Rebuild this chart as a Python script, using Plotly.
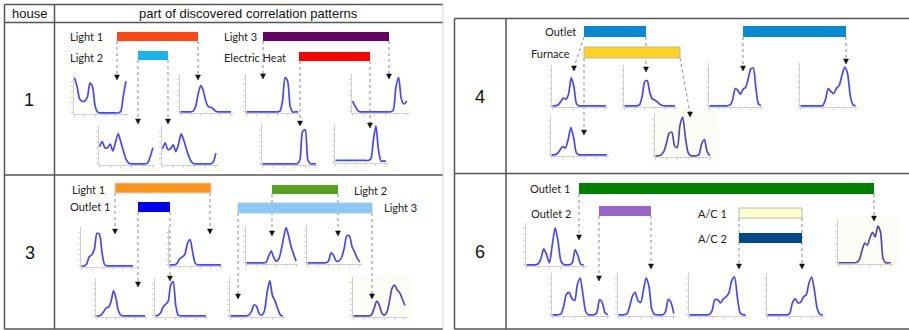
import plotly.graph_objects as go

W, H = 909, 330

# ---------------------------------------------------------------------------
# Sample positions shared by every small density curve
X = [0.00, 0.05, 0.10, 0.15, 0.20, 0.25, 0.30, 0.35, 0.40, 0.45, 0.50,
     0.55, 0.60, 0.65, 0.70, 0.75, 0.80, 0.85, 0.90, 0.95, 1.00]

# House 1 curves
h1_a = [1.00, 0.75, 0.40, 0.33, 0.34, 0.45, 0.85, 0.75, 0.20, 0.02, 0.00,
        0.00, 0.00, 0.00, 0.00, 0.00, 0.00, 0.00, 0.05, 0.50, 0.90]
h1_b = [0.00, 0.00, 0.00, 0.00, 0.00, 0.02, 0.15, 0.50, 0.73, 0.60, 0.30,
        0.15, 0.13, 0.08, 0.02, 0.00, 0.00, 0.00, 0.00, 0.00, 0.00]
h1_c = [0.00, 0.00, 0.00, 0.00, 0.00, 0.00, 0.00, 0.00, 0.00, 0.00, 0.00,
        0.00, 0.00, 0.02, 0.30, 0.95, 0.85, 0.15, 0.00, 0.00, 0.00]
h1_d = [0.30, 0.15, 0.03, 0.00, 0.00, 0.00, 0.00, 0.00, 0.00, 0.00, 0.00,
        0.00, 0.00, 0.00, 0.00, 0.05, 0.70, 0.95, 0.35, 0.22, 0.30]
h1_e = [0.48, 0.62, 0.45, 0.45, 0.55, 0.36, 0.60, 0.84, 0.60, 0.35, 0.12,
        0.02, 0.00, 0.00, 0.00, 0.00, 0.00, 0.00, 0.02, 0.20, 0.45]
h1_f = [0.42, 0.58, 0.40, 0.42, 0.53, 0.34, 0.55, 0.83, 0.65, 0.40, 0.18,
        0.04, 0.00, 0.00, 0.00, 0.00, 0.00, 0.00, 0.00, 0.05, 0.30]
h1_g = [0.00, 0.00, 0.00, 0.00, 0.00, 0.00, 0.00, 0.00, 0.00, 0.00, 0.00,
        0.00, 0.00, 0.00, 0.10, 0.85, 0.90, 0.10, 0.00, 0.00, 0.00]
h1_h = [0.04, 0.04, 0.04, 0.04, 0.04, 0.04, 0.04, 0.04, 0.04, 0.04, 0.04,
        0.04, 0.04, 0.04, 0.08, 0.60, 1.00, 0.35, 0.03, 0.02, 0.02]

# House 3 curves
h3_a = [0.00, 0.00, 0.05, 0.25, 0.30, 0.45, 0.88, 0.85, 0.35, 0.03, 0.00,
        0.00, 0.00, 0.00, 0.00, 0.00, 0.00, 0.00, 0.00, 0.00, 0.00]
h3_b = [0.00, 0.00, 0.00, 0.05, 0.17, 0.22, 0.30, 0.60, 0.70, 0.35, 0.05,
        0.00, 0.00, 0.00, 0.00, 0.00, 0.00, 0.00, 0.00, 0.00, 0.00]
h3_c = [0.00, 0.00, 0.00, 0.00, 0.00, 0.00, 0.00, 0.00, 0.02, 0.20, 0.33,
        0.15, 0.05, 0.10, 0.35, 0.70, 0.98, 0.75, 0.45, 0.25, 0.05]
h3_d = [0.00, 0.00, 0.00, 0.00, 0.00, 0.00, 0.00, 0.00, 0.05, 0.28, 0.20,
        0.05, 0.05, 0.15, 0.40, 0.75, 0.75, 0.45, 0.30, 0.12, 0.03]
h3_e = [0.00, 0.00, 0.03, 0.12, 0.22, 0.25, 0.40, 0.70, 0.50, 0.15, 0.02,
        0.00, 0.00, 0.00, 0.00, 0.00, 0.00, 0.00, 0.00, 0.00, 0.00]
h3_f = [0.00, 0.02, 0.08, 0.25, 0.32, 0.40, 0.85, 0.95, 0.30, 0.02, 0.00,
        0.00, 0.00, 0.00, 0.00, 0.00, 0.00, 0.00, 0.00, 0.00, 0.00]
h3_g = [0.00, 0.00, 0.00, 0.00, 0.00, 0.00, 0.00, 0.02, 0.12, 0.30, 0.25,
        0.05, 0.02, 0.15, 0.65, 0.95, 0.55, 0.40, 0.20, 0.03, 0.00]
h3_h = [0.00, 0.00, 0.00, 0.00, 0.00, 0.00, 0.00, 0.03, 0.20, 0.40, 0.30,
        0.08, 0.02, 0.10, 0.40, 0.75, 0.83, 0.70, 0.62, 0.45, 0.28]

# House 4 curves
h4_a = [0.00, 0.00, 0.02, 0.10, 0.20, 0.17, 0.30, 0.72, 0.50, 0.05, 0.00,
        0.00, 0.00, 0.00, 0.00, 0.00, 0.00, 0.00, 0.00, 0.00, 0.00]
h4_b = [0.00, 0.00, 0.00, 0.00, 0.00, 0.00, 0.03, 0.25, 0.62, 0.65, 0.35,
        0.18, 0.15, 0.10, 0.04, 0.01, 0.00, 0.00, 0.00, 0.00, 0.00]
h4_c = [0.00, 0.00, 0.00, 0.00, 0.00, 0.00, 0.00, 0.00, 0.02, 0.15, 0.42,
        0.38, 0.28, 0.40, 0.45, 0.65, 0.90, 0.93, 0.45, 0.05, 0.00]
h4_d = [0.00, 0.00, 0.00, 0.00, 0.00, 0.00, 0.00, 0.00, 0.00, 0.15, 0.42,
        0.35, 0.30, 0.43, 0.50, 0.75, 0.95, 0.80, 0.25, 0.02, 0.00]
h4_e = [0.00, 0.00, 0.03, 0.12, 0.22, 0.18, 0.40, 0.72, 0.45, 0.05, 0.00,
        0.00, 0.00, 0.00, 0.00, 0.00, 0.00, 0.00, 0.00, 0.00, 0.00]
h4_f = [0.00, 0.00, 0.02, 0.10, 0.30, 0.55, 0.58, 0.25, 0.20, 0.75, 0.95,
        0.45, 0.08, 0.00, 0.00, 0.00, 0.03, 0.30, 0.40, 0.10, 0.00]

# House 6 curves
h6_a = [0.00, 0.00, 0.00, 0.00, 0.02, 0.15, 0.40, 0.25, 0.05, 0.50, 0.93,
        0.60, 0.10, 0.01, 0.00, 0.00, 0.05, 0.38, 0.22, 0.01, 0.00]
h6_b = [0.00, 0.00, 0.00, 0.00, 0.00, 0.00, 0.00, 0.01, 0.08, 0.30, 0.47,
        0.42, 0.60, 0.73, 0.62, 0.88, 0.75, 0.10, 0.00, 0.00, 0.00]
h6_c = [0.00, 0.00, 0.00, 0.02, 0.20, 0.50, 0.55, 0.40, 0.35, 0.75, 0.90,
        0.50, 0.08, 0.00, 0.00, 0.00, 0.05, 0.37, 0.30, 0.05, 0.00]
h6_d = [0.00, 0.00, 0.00, 0.02, 0.20, 0.45, 0.55, 0.35, 0.30, 0.60, 0.90,
        0.70, 0.15, 0.01, 0.00, 0.00, 0.00, 0.08, 0.38, 0.30, 0.03]
h6_e = [0.00, 0.00, 0.00, 0.00, 0.00, 0.00, 0.00, 0.01, 0.10, 0.38, 0.38,
        0.30, 0.40, 0.45, 0.55, 0.85, 0.95, 0.45, 0.05, 0.00, 0.00]
h6_f = [0.00, 0.00, 0.00, 0.00, 0.00, 0.00, 0.00, 0.00, 0.03, 0.30, 0.40,
        0.30, 0.32, 0.45, 0.50, 0.80, 0.95, 0.60, 0.15, 0.01, 0.00]

# Row and appliance names
houses = ["1", "3", "4", "6"]
h1_names = ["Light 1", "Light 2", "Light 3", "Electric Heat"]
h3_names = ["Light 1", "Outlet 1", "Light 2", "Light 3"]
h4_names = ["Outlet", "Furnace"]
h6_names = ["Outlet 1", "Outlet 2", "A/C 1", "A/C 2"]

# ---------------------------------------------------------------------------
# Layout of the diagram (pixel units, origin top-left)

BLUE = "#4646ff"
DARK = "#5448b0"
SOFT_BG = "#fdfdf8"

# (curve, left, right, top, bottom, line colour, panel background)
mini_plots = [
    (h1_a, 74, 128, 76, 114, BLUE, None),
    (h1_b, 180, 233, 74, 113, BLUE, None),
    (h1_c, 246, 300, 74, 113, BLUE, None),
    (h1_d, 352, 409, 74, 113, BLUE, None),
    (h1_e, 99, 155, 126, 165, BLUE, None),
    (h1_f, 162, 218, 126, 165, BLUE, None),
    (h1_g, 262, 318, 124, 165, BLUE, None),
    (h1_h, 335, 388, 124, 163, BLUE, None),
    (h3_a, 81, 135, 227, 267, BLUE, None),
    (h3_b, 169, 223, 227, 266, BLUE, None),
    (h3_c, 246, 298, 225, 264, BLUE, None),
    (h3_d, 307, 362, 225, 264, BLUE, None),
    (h3_e, 96, 147, 278, 317, BLUE, None),
    (h3_f, 155, 208, 278, 317, BLUE, None),
    (h3_g, 230, 285, 277, 317, BLUE, None),
    (h3_h, 353, 407, 277, 317, DARK, SOFT_BG),
    (h4_a, 552, 608, 65, 107, BLUE, None),
    (h4_b, 624, 677, 65, 107, BLUE, None),
    (h4_c, 709, 763, 63, 107, BLUE, None),
    (h4_d, 800, 858, 63, 107, BLUE, None),
    (h4_e, 551, 609, 115, 156, BLUE, None),
    (h4_f, 655, 712, 113, 157, DARK, SOFT_BG),
    (h6_a, 526, 586, 223, 266, BLUE, None),
    (h6_b, 838, 893, 219, 264, DARK, SOFT_BG),
    (h6_c, 552, 610, 272, 316, BLUE, None),
    (h6_d, 618, 676, 272, 316, BLUE, None),
    (h6_e, 689, 748, 273, 316, BLUE, None),
    (h6_f, 767, 825, 273, 316, BLUE, None),
]

# (left, right, top, bottom, fill, border)
bars = [
    (117, 198, 32, 41, "#ff4512", None),
    (138, 168, 51, 60, "#19b4ef", None),
    (263, 389, 32, 41, "#660066", None),
    (299, 370, 52, 61, "#ff0000", None),
    (115, 211, 183, 193, "#ff9416", "#d0d0d0"),
    (138, 170, 202, 212, "#0000ee", None),
    (272, 338, 185, 194, "#58a020", None),
    (238, 372, 203, 213, "#88c8f8", "#b0c8d8"),
    (584, 646, 26, 37, "#0a88d0", None),
    (743, 846, 26, 37, "#0a88d0", None),
    (584, 680, 47, 58, "#ffd21e", "#b8b8b8"),
    (579, 874, 183, 194, "#008000", None),
    (599, 651, 206, 216, "#9966cc", None),
    (739, 802, 208, 218, "#ffffcc", "#b8b8b8"),
    (739, 802, 233, 243, "#004a8a", None),
]

# dotted connectors: (x start, y start, x tip, y tip)
links = [
    (117, 41, 117, 80), (198, 41, 198, 80),
    (138, 60, 138, 124), (168, 60, 168, 124),
    (263, 41, 263, 79), (389, 41, 389, 79),
    (300, 61, 300, 126), (370, 61, 370, 128),
    (115, 193, 115, 234), (210, 193, 210, 234),
    (138, 212, 138, 287), (170, 212, 170, 281),
    (272, 194, 272, 236), (338, 194, 338, 236),
    (238, 213, 238, 299), (372, 213, 372, 299),
    (584, 37, 574, 71), (646, 37, 646, 72),
    (743, 37, 743, 71), (846, 37, 846, 64),
    (584, 58, 584, 135), (680, 58, 690, 117),
    (579, 194, 579, 240), (874, 194, 874, 221),
    (599, 216, 599, 281), (651, 216, 651, 269),
    (739, 218, 739, 269), (802, 218, 802, 269),
]

# appliance labels: (text, x, y, anchor)
labels = [
    (h1_names[0], 68, 36, "left"), (h1_names[1], 68, 57, "left"),
    (h1_names[2], 222, 36, "left"), (h1_names[3], 222, 57, "left"),
    (h3_names[0], 70, 189, "left"), (h3_names[1], 68, 206, "left"),
    (h3_names[2], 352, 190, "left"), (h3_names[3], 382, 208, "left"),
    (h4_names[0], 578, 32, "right"), (h4_names[1], 572, 53, "right"),
    (h6_names[0], 572, 188, "right"), (h6_names[1], 573, 213, "right"),
    (h6_names[2], 729, 213, "right"), (h6_names[3], 729, 238, "right"),
]
house_pos = [(29, 100), (30, 253), (480, 97), (480, 252)]


def px(x):
    return x / W


def py(y):
    return 1 - y / H


fig = go.Figure()
layout = dict(
    width=W, height=H,
    margin=dict(l=0, r=0, t=0, b=0),
    paper_bgcolor="white", plot_bgcolor="rgba(0,0,0,0)",
    showlegend=False,
)
shapes = []
annotations = []

axis_style = dict(
    showline=True, linecolor="#cfcfcf", linewidth=1,
    ticks="outside", ticklen=2, tickwidth=1, tickcolor="#d6d6d6",
    showticklabels=False, showgrid=False, zeroline=False, fixedrange=True,
)

for i, (curve, x0, x1, y0, y1, colour, bg) in enumerate(mini_plots, start=1):
    sx = "" if i == 1 else str(i)
    layout["xaxis" + sx] = dict(domain=[px(x0), px(x1)], anchor="y" + sx,
                                range=[-0.01, 1.04],
                                tickvals=[0, 0.2, 0.4, 0.6, 0.8, 1.0],
                                **axis_style)
    layout["yaxis" + sx] = dict(domain=[py(y1), py(y0)], anchor="x" + sx,
                                range=[-0.03, 1.05],
                                tickvals=[0, 0.15, 0.3, 0.45, 0.6, 0.75, 0.9],
                                **axis_style)
    if bg:
        shapes.append(dict(type="rect", xref="paper", yref="paper",
                           x0=px(x0 - 4), x1=px(x1 + 6), y0=py(y1 + 4), y1=py(y0 - 3),
                           fillcolor=bg, line=dict(width=0), layer="below"))
    fig.add_trace(go.Scatter(
        x=X, y=curve, mode="lines", xaxis="x" + sx, yaxis="y" + sx,
        line=dict(color=colour, width=1.7, shape="spline", smoothing=0.7),
        hoverinfo="skip",
    ))

# table frames
GRID = "#555555"


def hline(x0, x1, y, colour=GRID, width=1.5):
    shapes.append(dict(type="line", xref="paper", yref="paper",
                       x0=px(x0), x1=px(x1), y0=py(y), y1=py(y),
                       line=dict(color=colour, width=width)))


def vline(x, y0, y1, colour=GRID, width=1.5):
    shapes.append(dict(type="line", xref="paper", yref="paper",
                       x0=px(x), x1=px(x), y0=py(y0), y1=py(y1),
                       line=dict(color=colour, width=width)))


# left table
hline(4.5, 443, 4.5)
hline(4.5, 443, 22.5)
hline(4.5, 443, 175)
hline(4.5, 443, 329)
vline(4.5, 4.5, 329)
vline(54.5, 4.5, 329)
vline(443, 4.5, 329, colour="#d4d4d4", width=1)
# right table
hline(454.5, 909, 18.5)
hline(454.5, 909, 173.5)
hline(454.5, 909, 329)
vline(454.5, 18.5, 329)
vline(506, 18.5, 329)

# coloured activity bars
for x0, x1, y0, y1, fill, border in bars:
    shapes.append(dict(type="rect", xref="paper", yref="paper",
                       x0=px(x0), x1=px(x1), y0=py(y1), y1=py(y0),
                       fillcolor=fill,
                       line=dict(color=border or fill, width=1 if border else 0)))

# dotted connectors with arrow heads
for xs, ys, xt, yt in links:
    shapes.append(dict(type="line", xref="paper", yref="paper",
                       x0=px(xs), y0=py(ys), x1=px(xt), y1=py(yt - 4),
                       line=dict(color="#8a8a8a", width=1, dash="dot"),
                       layer="below"))
    path = "M {:.5f},{:.5f} L {:.5f},{:.5f} L {:.5f},{:.5f} Z".format(
        px(xt - 2.5), py(yt - 5), px(xt + 2.5), py(yt - 5), px(xt), py(yt))
    shapes.append(dict(type="path", xref="paper", yref="paper", path=path,
                       fillcolor="#111111", line=dict(color="#111111", width=0.5)))

# header texts
annotations.append(dict(text="house", x=px(29), y=py(13.5), xref="paper", yref="paper",
                        showarrow=False, xanchor="center", yanchor="middle",
                        font=dict(family="Liberation Sans, Arial", size=13, color="#111")))
annotations.append(dict(text="part of discovered correlation patterns", x=px(249), y=py(13.5),
                        xref="paper", yref="paper", showarrow=False,
                        xanchor="center", yanchor="middle",
                        font=dict(family="Liberation Sans, Arial", size=13, color="#111")))

for name, (hx, hy) in zip(houses, house_pos):
    annotations.append(dict(text=name, x=px(hx), y=py(hy), xref="paper", yref="paper",
                            showarrow=False, xanchor="center", yanchor="middle",
                            font=dict(family="Liberation Sans, Arial", size=18, color="#111")))

for text, lx, ly, anchor in labels:
    annotations.append(dict(text=text, x=px(lx), y=py(ly), xref="paper", yref="paper",
                            showarrow=False, xanchor=anchor, yanchor="middle",
                            font=dict(family="Lato, Open Sans, sans-serif", size=11,
                                      color="#222")))

layout["shapes"] = shapes
layout["annotations"] = annotations
fig.update_layout(**layout)
fig.write_html("out.html")
